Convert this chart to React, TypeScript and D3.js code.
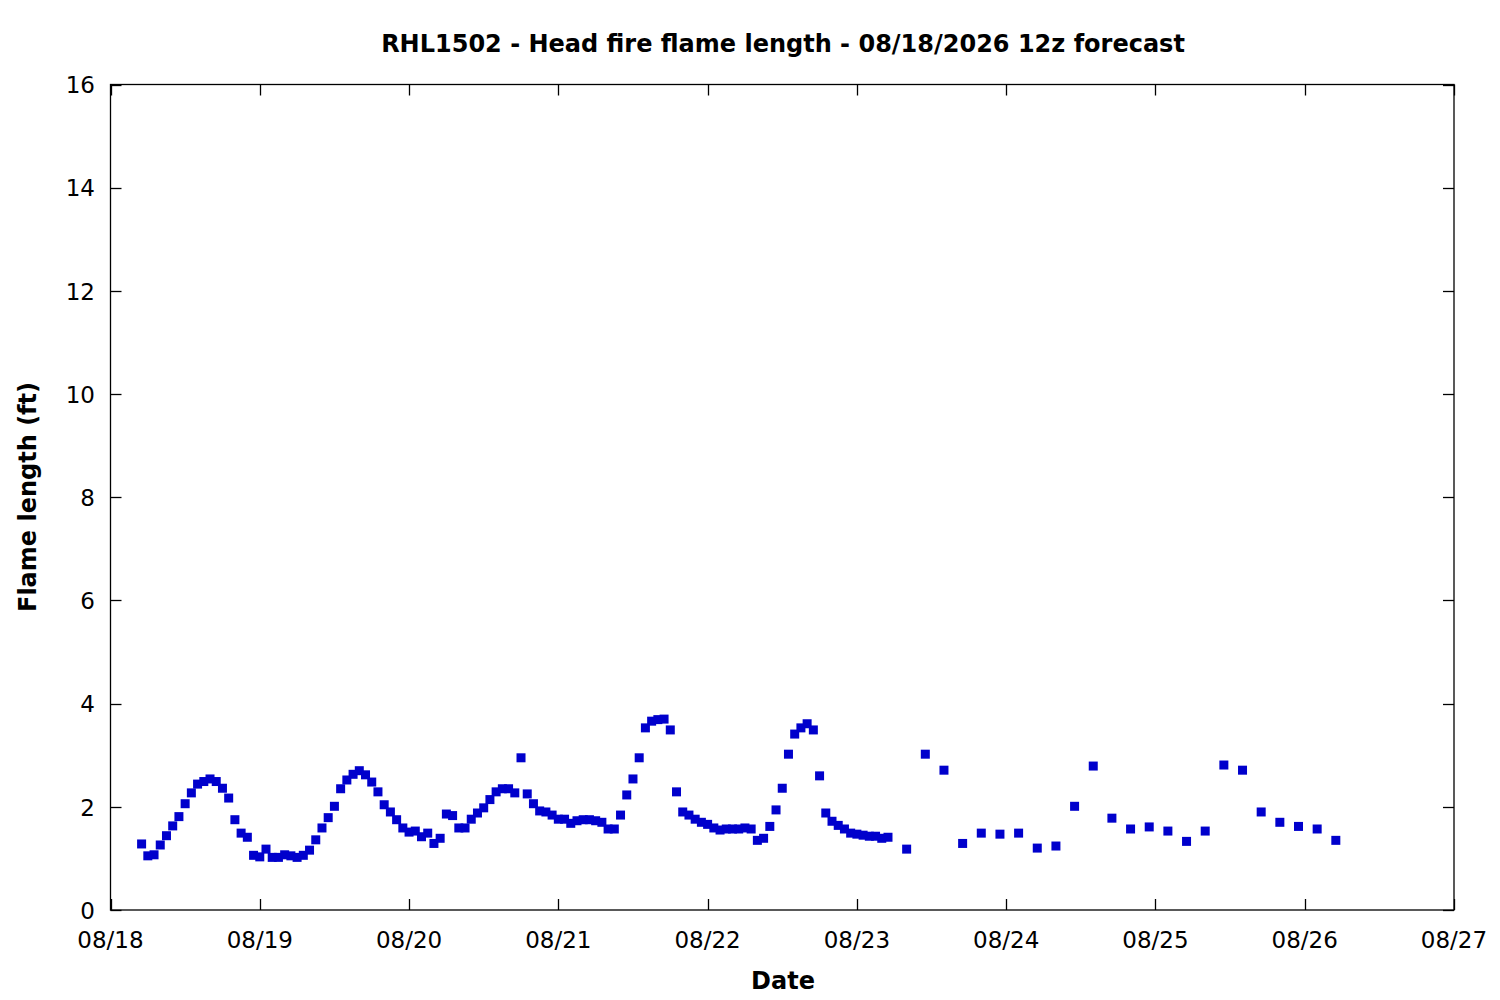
import React, { useEffect, useRef } from 'react'
import * as d3 from 'd3'

// Hourly forecast, starting 08/18 05h
const hourlyStartHour = 5
const hourlyFlame = [
  1.28, 1.05, 1.07, 1.26, 1.44, 1.63, 1.81, 2.06, 2.27, 2.44, 2.49, 2.54, 2.49, 2.36, 2.17, 1.75,
  1.49, 1.41, 1.06, 1.03, 1.18, 1.02, 1.02, 1.07, 1.05, 1.02, 1.06, 1.16, 1.36, 1.59, 1.79, 2.01,
  2.35, 2.52, 2.63, 2.7, 2.62, 2.48, 2.29, 2.04, 1.9, 1.75, 1.59, 1.51, 1.53, 1.42, 1.49, 1.29,
  1.39, 1.86, 1.83, 1.59, 1.59, 1.76, 1.88, 1.98, 2.14, 2.29, 2.35, 2.35, 2.27, 2.95, 2.25, 2.06,
  1.92, 1.9, 1.84, 1.76, 1.76, 1.68, 1.73, 1.75, 1.75, 1.73, 1.7, 1.57, 1.57, 1.84, 2.23, 2.54,
  2.95, 3.53, 3.66, 3.69, 3.7, 3.49, 2.29, 1.9, 1.84, 1.76, 1.7, 1.66, 1.59, 1.55, 1.57, 1.57,
  1.57, 1.59, 1.57, 1.35, 1.39, 1.62, 1.94, 2.36, 3.02, 3.41, 3.53, 3.61, 3.49, 2.6, 1.88, 1.72,
  1.64, 1.57, 1.49, 1.47, 1.45, 1.43, 1.43, 1.39, 1.41,
]

// 3-hourly tail of the forecast (hours since 08/18 00h)
const threeHourlyHours = [
  128, 131, 134, 137, 140, 143, 146, 149, 152, 155, 158, 161, 164, 167, 170, 173, 176, 179, 182,
  185, 188, 191, 194, 197,
]
const threeHourlyFlame = [
  1.18, 3.02, 2.71, 1.29, 1.49, 1.47, 1.49, 1.2, 1.24, 2.01, 2.79, 1.78, 1.57, 1.61, 1.53, 1.33,
  1.53, 2.81, 2.71, 1.9, 1.7, 1.62, 1.57, 1.35,
]

const yTicks = [0, 2, 4, 6, 8, 10, 12, 14, 16]

const base = Date.UTC(2026, 7, 18)
const hour = 3600 * 1000

export default function App() {
  const ref = useRef<SVGSVGElement | null>(null)

  useEffect(() => {
    if (!ref.current) return
    const svg = d3.select(ref.current)
    svg.selectAll('*').remove()

    const width = 1500
    const height = 1000
    const left = 110.5
    const right = 1454
    const top = 84.5
    const bottom = 910
    const font = 'DejaVu Sans, sans-serif'

    const points: { t: Date; v: number }[] = [
      ...hourlyFlame.map((v, i) => ({ t: new Date(base + (hourlyStartHour + i) * hour), v })),
      ...threeHourlyFlame.map((v, i) => ({ t: new Date(base + threeHourlyHours[i] * hour), v })),
    ]

    const x = d3
      .scaleUtc()
      .domain([new Date(base), new Date(base + 9 * 24 * hour)])
      .range([left, right])
    const y = d3.scaleLinear().domain([0, 16]).range([bottom, top])

    svg.append('rect').attr('width', width).attr('height', height).attr('fill', '#fff')

    const days = x.ticks(d3.utcDay.every(1) as any)
    const fmt = d3.utcFormat('%m/%d')
    const tick = 11

    const axes = svg.append('g').attr('stroke', '#000').attr('stroke-width', 1.3)
    // x ticks, bottom and mirrored top
    days.forEach((d) => {
      const px = Math.round(x(d)) + 0.5
      axes.append('line').attr('x1', px).attr('x2', px).attr('y1', bottom).attr('y2', bottom - tick)
      axes.append('line').attr('x1', px).attr('x2', px).attr('y1', top).attr('y2', top + tick)
    })
    yTicks.forEach((v) => {
      const py = Math.round(y(v)) + 0.5
      axes.append('line').attr('x1', left).attr('x2', left + tick).attr('y1', py).attr('y2', py)
      axes.append('line').attr('x1', right).attr('x2', right - tick).attr('y1', py).attr('y2', py)
    })

    svg
      .append('g')
      .selectAll('text')
      .data(days)
      .join('text')
      .attr('x', (d) => x(d))
      .attr('y', 948)
      .attr('text-anchor', 'middle')
      .style('font-family', font)
      .style('font-size', '23px')
      .text((d) => fmt(d))

    svg
      .append('g')
      .selectAll('text')
      .data(yTicks)
      .join('text')
      .attr('x', 95)
      .attr('y', (d) => y(d))
      .attr('dy', '0.38em')
      .attr('text-anchor', 'end')
      .style('font-family', font)
      .style('font-size', '23px')
      .text((d) => d)

    // data markers
    const s = 9
    svg
      .append('g')
      .selectAll('rect')
      .data(points)
      .join('rect')
      .attr('x', (d) => x(d.t) - s / 2)
      .attr('y', (d) => y(d.v) - s / 2)
      .attr('width', s)
      .attr('height', s)
      .attr('fill', '#0000cc')

    // frame
    svg
      .append('rect')
      .attr('x', left)
      .attr('y', top)
      .attr('width', right - left)
      .attr('height', bottom - top)
      .attr('fill', 'none')
      .attr('stroke', '#000')
      .attr('stroke-width', 1.3)

    svg
      .append('text')
      .attr('x', 783)
      .attr('y', 52)
      .attr('text-anchor', 'middle')
      .style('font-family', font)
      .style('font-weight', 'bold')
      .style('font-size', '24px')
      .text('RHL1502 - Head fire flame length - 08/18/2026 12z forecast')

    svg
      .append('text')
      .attr('x', 783)
      .attr('y', 989)
      .attr('text-anchor', 'middle')
      .style('font-family', font)
      .style('font-weight', 'bold')
      .style('font-size', '24px')
      .text('Date')

    svg
      .append('text')
      .attr('transform', 'translate(36,497) rotate(-90)')
      .attr('text-anchor', 'middle')
      .style('font-family', font)
      .style('font-weight', 'bold')
      .style('font-size', '24px')
      .text('Flame length (ft)')
  }, [])

  return (
    <svg
      ref={ref}
      width={1500}
      height={1000}
      style={{ position: 'absolute', left: 0, top: 0 }}
    />
  )
}
